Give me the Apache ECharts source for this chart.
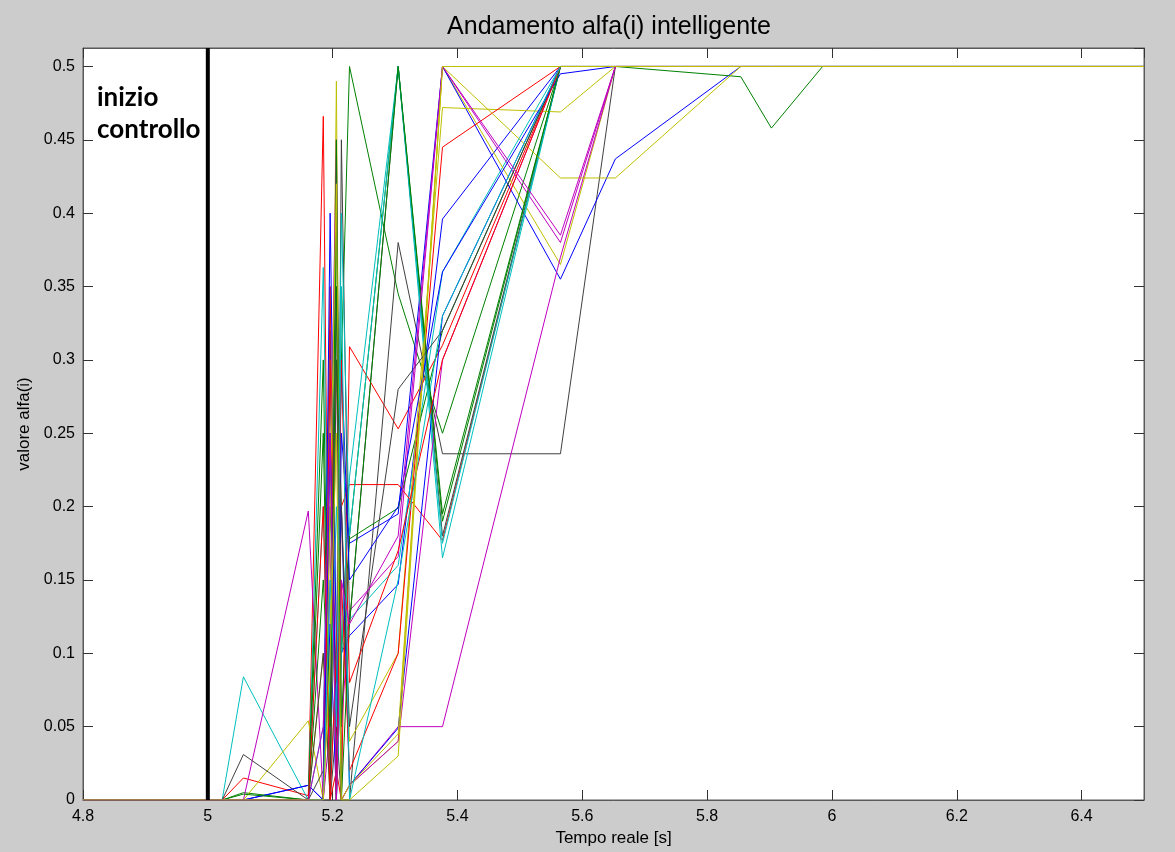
<!DOCTYPE html>
<html>
<head>
<meta charset="utf-8">
<script src="https://cdn.jsdelivr.net/npm/echarts@6/dist/echarts.min.js"></script>
<style>
  html, body { margin: 0; padding: 0; background: #cccccc; }
  #chart { width: 1175px; height: 852px; }
</style>
</head>
<body>
<div id="chart"></div>
<script>
// Sampling instants [s] shared by all alfa(i) traces
const tempo = [4.8, 5.0, 5.023, 5.057, 5.161, 5.185, 5.196, 5.206, 5.214, 5.227, 5.305, 5.376, 5.565, 5.653, 5.854, 5.903, 5.985, 6.5];

// alfa(i) traces, one per controller i
const a01 = [0, 0, 0, 0, 0.010, 0, 0.320, 0, 0.100, 0.112, 0.147, 0.396, 0.5, 0.5, 0.5, 0.5, 0.5, 0.5];
const a02 = [0, 0, 0, 0.005, 0, 0, 0.200, 0.080, 0.300, 0.500, 0.345, 0.250, 0.5, 0.5, 0.5, 0.5, 0.5, 0.5];
const a03 = [0, 0, 0, 0.015, 0.003, 0.466, 0, 0.020, 0, 0.309, 0.253, 0.310, 0.5, 0.5, 0.5, 0.5, 0.5, 0.5];
const a04 = [0, 0, 0, 0.084, 0, 0.363, 0.050, 0.200, 0.100, 0.123, 0.160, 0.360, 0.5, 0.5, 0.5, 0.5, 0.5, 0.5];
const a05 = [0, 0, 0, 0, 0.197, 0, 0.150, 0.300, 0.050, 0.129, 0.166, 0.500, 0.380, 0.5, 0.5, 0.5, 0.5, 0.5];
const a06 = [0, 0, 0, 0, 0.054, 0, 0.100, 0.490, 0, 0.010, 0.040, 0.500, 0.365, 0.5, 0.5, 0.5, 0.5, 0.5];
const a07 = [0, 0, 0, 0.031, 0, 0, 0, 0.050, 0, 0, 0.380, 0.236, 0.236, 0.5, 0.5, 0.5, 0.5, 0.5];
const a08 = [0, 0, 0, 0, 0, 0, 0.120, 0, 0.250, 0.175, 0.195, 0.500, 0.355, 0.437, 0.5, 0.5, 0.5, 0.5];
const a09 = [0, 0, 0, 0, 0, 0.250, 0, 0.400, 0.100, 0.178, 0.199, 0.320, 0.5, 0.5, 0.5, 0.5, 0.5, 0.5];
const a10 = [0, 0, 0, 0, 0, 0, 0.350, 0, 0.200, 0.215, 0.215, 0.177, 0.5, 0.5, 0.5, 0.5, 0.5, 0.5];
const a11 = [0, 0, 0, 0, 0, 0.050, 0.300, 0, 0.100, 0.220, 0.500, 0.165, 0.5, 0.5, 0.5, 0.5, 0.5, 0.5];
const a12 = [0, 0, 0, 0, 0, 0, 0.200, 0.450, 0, 0.010, 0.050, 0.050, 0.370, 0.5, 0.5, 0.5, 0.5, 0.5];
const a13 = [0, 0, 0, 0, 0, 0.100, 0, 0.300, 0.200, 0.040, 0.100, 0.472, 0.469, 0.5, 0.5, 0.5, 0.5, 0.5];
const a14 = [0, 0, 0, 0, 0, 0.020, 0.250, 0, 0.450, 0.120, 0.500, 0.180, 0.5, 0.5, 0.5, 0.5, 0.5, 0.5];
const a15 = [0, 0, 0, 0, 0.010, 0, 0.400, 0.100, 0.200, 0.010, 0.049, 0.330, 0.5, 0.5, 0.5, 0.5, 0.5, 0.5];
const a16 = [0, 0, 0, 0.004, 0, 0.300, 0, 0.450, 0.050, 0.180, 0.500, 0.190, 0.5, 0.5, 0.493, 0.458, 0.5, 0.5];
const a17 = [0, 0, 0, 0, 0, 0, 0.300, 0, 0.150, 0.020, 0.100, 0.445, 0.5, 0.5, 0.5, 0.5, 0.5, 0.5];
const a18 = [0, 0, 0, 0, 0, 0.200, 0, 0.100, 0.400, 0.180, 0.500, 0.175, 0.5, 0.5, 0.5, 0.5, 0.5, 0.5];
const a19 = [0, 0, 0, 0, 0, 0, 0.050, 0.350, 0, 0.010, 0.040, 0.300, 0.5, 0.5, 0.5, 0.5, 0.5, 0.5];
const a20 = [0, 0, 0, 0, 0, 0, 0.200, 0.420, 0, 0.010, 0.045, 0.500, 0.424, 0.424, 0.5, 0.5, 0.5, 0.5];
const a21 = [0, 0, 0, 0, 0, 0.100, 0, 0.300, 0.200, 0.050, 0.280, 0.320, 0.5, 0.5, 0.5, 0.5, 0.5, 0.5];
const a22 = [0, 0, 0, 0, 0, 0, 0.250, 0.050, 0.300, 0.150, 0.200, 0.360, 0.495, 0.5, 0.5, 0.5, 0.5, 0.5];
const a23 = [0, 0, 0, 0, 0, 0.150, 0.050, 0.350, 0, 0.120, 0.500, 0.195, 0.5, 0.5, 0.5, 0.5, 0.5, 0.5];
const a24 = [0, 0, 0, 0, 0, 0.200, 0, 0.100, 0.300, 0.080, 0.170, 0.300, 0.5, 0.5, 0.5, 0.5, 0.5, 0.5];
const a25 = [0, 0, 0, 0, 0, 0, 0.150, 0.050, 0.350, 0, 0.150, 0.330, 0.5, 0.5, 0.5, 0.5, 0.5, 0.5];
const a26 = [0, 0, 0, 0, 0, 0.050, 0.250, 0, 0.150, 0.120, 0.180, 0.500, 0.385, 0.5, 0.5, 0.5, 0.5, 0.5];
const a27 = [0, 0, 0, 0, 0, 0, 0.100, 0.250, 0, 0, 0.030, 0.500, 0.5, 0.5, 0.5, 0.5, 0.5, 0.5];

const tracce = [a01, a02, a03, a04, a05, a06, a07, a08, a09, a10, a11, a12, a13, a14,
                a15, a16, a17, a18, a19, a20, a21, a22, a23, a24, a25, a26, a27];

// Classic line colour order: b, g, r, c, m, y, k
const coloriLinee = ['#0000ff', '#008000', '#ff0000', '#00bfbf', '#bf00bf', '#bfbf00', '#404040'];

// Axis settings
const xMin = 4.8, xMax = 6.5, xPasso = 0.2;
const yMin = 0, yMax = 0.5126, yPasso = 0.05;
const inizioControllo = 5.0;

const chart = echarts.init(document.getElementById('chart'), null, { renderer: 'canvas' });

const fontBase = 'Liberation Sans, Arial, sans-serif';
const tickFont = { fontFamily: fontBase, fontSize: 16, color: '#000' };
const tickStyle = { show: true, inside: true, length: 10, lineStyle: { color: '#333', width: 1 } };
const lineaAsse = { show: true, onZero: false, lineStyle: { color: '#5a5a5a', width: 1 } };

const serie = tracce.map((vals, i) => ({
  type: 'line',
  name: 'alfa(' + (i + 1) + ')',
  data: tempo.map((t, k) => [t, vals[k]]),
  showSymbol: false,
  symbol: 'none',
  lineStyle: { width: 1, color: coloriLinee[i % coloriLinee.length] },
  itemStyle: { color: coloriLinee[i % coloriLinee.length] },
  z: 2,
  silent: true
}));

// Thick vertical marker at the start of control
serie.push({
  type: 'line',
  name: 'inizio controllo',
  data: [[inizioControllo, yMin], [inizioControllo, yMax]],
  showSymbol: false,
  symbol: 'none',
  lineStyle: { width: 4, color: '#000' },
  z: 5,
  silent: true
});

const option = {
  animation: false,
  backgroundColor: '#cccccc',
  title: {
    text: 'Andamento alfa(i) intelligente',
    left: 604,
    textAlign: 'center',
    top: 10,
    textStyle: { fontFamily: fontBase, fontSize: 25, fontWeight: 'normal', color: '#000' }
  },
  grid: {
    left: 83, right: 31, top: 48, bottom: 52,
    show: true, backgroundColor: '#ffffff', borderColor: '#5a5a5a', borderWidth: 1
  },
  xAxis: [{
    type: 'value', min: xMin, max: xMax, interval: xPasso,
    position: 'bottom',
    name: 'Tempo reale [s]', nameLocation: 'middle', nameGap: 28,
    nameTextStyle: { fontFamily: fontBase, fontSize: 17, color: '#000' },
    axisLine: lineaAsse,
    axisTick: tickStyle,
    axisLabel: Object.assign({ margin: 9, showMaxLabel: false }, tickFont),
    splitLine: { show: false }
  }, {
    type: 'value', min: xMin, max: xMax, interval: xPasso,
    position: 'top',
    axisLine: lineaAsse,
    axisTick: tickStyle,
    axisLabel: { show: false },
    splitLine: { show: false }
  }],
  yAxis: [{
    type: 'value', min: yMin, max: yMax, interval: yPasso,
    position: 'left',
    name: 'valore alfa(i)', nameLocation: 'middle', nameGap: 45, nameRotate: 90,
    nameTextStyle: { fontFamily: fontBase, fontSize: 17, color: '#000' },
    axisLine: lineaAsse,
    axisTick: tickStyle,
    axisLabel: Object.assign({ margin: 8, showMaxLabel: false }, tickFont),
    splitLine: { show: false }
  }, {
    type: 'value', min: yMin, max: yMax, interval: yPasso,
    position: 'right',
    axisLine: lineaAsse,
    axisTick: tickStyle,
    axisLabel: { show: false },
    splitLine: { show: false }
  }],
  graphic: [{
    type: 'text',
    left: 97, top: 82,
    z: 10,
    style: {
      text: 'inizio\ncontrollo',
      font: 'bold 26px Lato, "Open Sans", sans-serif',
      lineHeight: 32,
      fill: '#000'
    }
  }],
  series: serie
};

chart.setOption(option);
</script>
</body>
</html>
